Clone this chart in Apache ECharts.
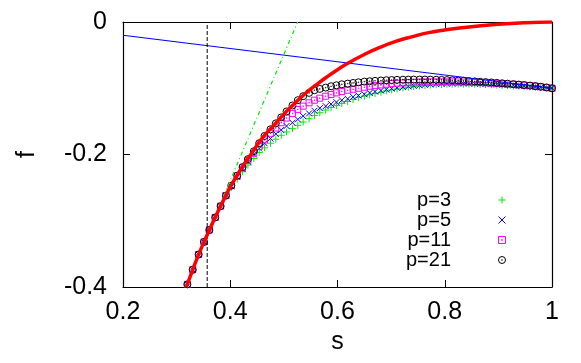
<!DOCTYPE html>
<html>
<head>
<meta charset="utf-8">
<script src="https://cdn.jsdelivr.net/npm/echarts@6/dist/echarts.min.js"></script>
<style>
    html, body { margin: 0; padding: 0; background: #fff; }
    #chart { width: 581px; height: 363px; }
</style>
</head>
<body>
<div id="chart"></div>
<script>
// s values of the marker points
var sGrid = [0.320, 0.330, 0.341, 0.351, 0.361, 0.372, 0.382, 0.392, 0.402, 0.413,
    0.423, 0.433, 0.444, 0.454, 0.464, 0.475, 0.485, 0.495, 0.505, 0.516,
    0.526, 0.536, 0.547, 0.557, 0.567, 0.578, 0.588, 0.598, 0.608, 0.619,
    0.629, 0.639, 0.650, 0.660, 0.670, 0.681, 0.691, 0.701, 0.711, 0.722,
    0.732, 0.742, 0.753, 0.763, 0.773, 0.784, 0.794, 0.804, 0.814, 0.825,
    0.835, 0.845, 0.856, 0.866, 0.876, 0.887, 0.897, 0.907, 0.917, 0.928,
    0.938, 0.948, 0.959, 0.969, 0.979, 0.990, 1.000];

// p=3
var p3F = [-0.396, -0.374, -0.351, -0.332, -0.314, -0.295, -0.278, -0.263, -0.250, -0.237,
    -0.226, -0.216, -0.206, -0.197, -0.190, -0.183, -0.177, -0.171, -0.166, -0.161,
    -0.156, -0.151, -0.146, -0.141, -0.137, -0.133, -0.129, -0.126, -0.123, -0.120,
    -0.117, -0.114, -0.112, -0.110, -0.108, -0.106, -0.104, -0.1025, -0.101, -0.0995,
    -0.0985, -0.0975, -0.0965, -0.0958, -0.0952, -0.0947, -0.0943, -0.094, -0.0938, -0.0937,
    -0.0937, -0.0938, -0.094, -0.0942, -0.0945, -0.0948, -0.0952, -0.0956, -0.096, -0.0965,
    -0.097, -0.0975, -0.098, -0.0985, -0.0991, -0.0996, -0.1];

// p=5
var p5F = [-0.396, -0.374, -0.351, -0.332, -0.314, -0.295, -0.278, -0.262, -0.248, -0.234,
    -0.222, -0.211, -0.200, -0.191, -0.183, -0.176, -0.169, -0.163, -0.157, -0.152,
    -0.147, -0.142, -0.138, -0.134, -0.130, -0.127, -0.124, -0.121, -0.118, -0.116,
    -0.113, -0.111, -0.109, -0.107, -0.105, -0.1035, -0.102, -0.1005, -0.0993, -0.0982,
    -0.0972, -0.0963, -0.0955, -0.0948, -0.0942, -0.0937, -0.0933, -0.093, -0.0928, -0.0927,
    -0.0927, -0.0928, -0.093, -0.0932, -0.0935, -0.0938, -0.0942, -0.0946, -0.0951, -0.0956,
    -0.0962, -0.0968, -0.0974, -0.098, -0.0987, -0.0993, -0.1];

// p=11
var p11F = [-0.396, -0.374, -0.351, -0.332, -0.314, -0.295, -0.278, -0.262, -0.247, -0.232,
    -0.220, -0.209, -0.198, -0.188, -0.178, -0.168, -0.160, -0.152, -0.145, -0.138,
    -0.132, -0.127, -0.122, -0.118, -0.115, -0.112, -0.1095, -0.107, -0.105, -0.103,
    -0.1015, -0.100, -0.0985, -0.097, -0.096, -0.095, -0.094, -0.093, -0.0925, -0.092,
    -0.0915, -0.091, -0.0907, -0.0905, -0.0904, -0.0903, -0.0903, -0.0903, -0.0904, -0.0905,
    -0.0907, -0.0909, -0.0912, -0.0915, -0.0918, -0.0922, -0.0926, -0.0931, -0.0936, -0.0941,
    -0.0947, -0.0953, -0.096, -0.0968, -0.0977, -0.0988, -0.1];

// p=21
var p21F = [-0.396, -0.374, -0.351, -0.332, -0.314, -0.295, -0.278, -0.262, -0.247, -0.232,
    -0.219, -0.207, -0.195, -0.183, -0.172, -0.162, -0.153, -0.144, -0.135, -0.126,
    -0.118, -0.112, -0.107, -0.103, -0.101, -0.099, -0.097, -0.0955, -0.094, -0.093,
    -0.092, -0.091, -0.090, -0.0894, -0.0888, -0.0883, -0.0879, -0.0876, -0.0873, -0.0871,
    -0.087, -0.0869, -0.0869, -0.0869, -0.087, -0.0872, -0.0874, -0.0877, -0.088, -0.0884,
    -0.0888, -0.0892, -0.0897, -0.0902, -0.0907, -0.0913, -0.0919, -0.0925, -0.0931, -0.0938,
    -0.0945, -0.0952, -0.096, -0.0968, -0.0977, -0.0988, -0.1];

// thick red curve
var redS = [0.318, 0.33, 0.34, 0.35, 0.36, 0.37, 0.38, 0.39, 0.40, 0.42, 0.44, 0.46, 0.48, 0.50, 0.52,
    0.54, 0.56, 0.58, 0.60, 0.62, 0.65, 0.68, 0.71, 0.74, 0.77, 0.80, 0.85, 0.90, 0.95, 1.00];
var redF = [-0.4, -0.374, -0.353, -0.334, -0.316, -0.298, -0.281, -0.265, -0.249, -0.222, -0.198, -0.175, -0.157, -0.139, -0.123,
    -0.108, -0.095, -0.083, -0.072, -0.062, -0.049, -0.038, -0.029, -0.022, -0.016, -0.012, -0.007, -0.0035, -0.0012, 0];

// straight lines
var blueS = [0.2, 1.0];
var blueF = [-0.02, -0.1];
var greenS = [0.3156, 0.5256];
var greenF = [-0.4, 0];
var cutS = [0.357, 0.357];
var cutF = [-0.4, 0];

// legend names
var names = ['p=3', 'p=5', 'p=11', 'p=21'];

var FONT = 'Liberation Sans';

function pairs (xs, ys) {
    return xs.map(function (x, i) {
        return [x, ys[i]];
    });
}

function lineSeries (xs, ys, color, width, dash, smooth) {
    return {
        type: 'line',
        data: pairs(xs, ys),
        symbol: 'none',
        smooth: smooth || false,
        silent: true,
        lineStyle: { color: color, width: width, type: dash || 'solid' }
    };
}

function markSeries (name, ys, symbol, color, size) {
    return {
        name: name,
        type: 'scatter',
        data: pairs(sGrid, ys),
        symbol: symbol,
        symbolSize: size,
        clip: false,
        itemStyle: { color: 'none', borderColor: color, borderWidth: 1, opacity: 1 }
    };
}

function axisCommon (pos, showLabel) {
    return {
        type: 'value',
        position: pos,
        axisLine: { show: true, onZero: false, lineStyle: { color: '#000', width: 1.2 } },
        axisTick: { show: true, inside: true, length: 7, lineStyle: { color: '#000', width: 1 } },
        axisLabel: { show: showLabel, color: '#000', fontFamily: FONT, fontSize: 25, showMinLabel: true, showMaxLabel: true },
        splitLine: { show: false }
    };
}

function buildOption () {
    var xBottom = axisCommon('bottom', true);
    xBottom.min = 0.2; xBottom.max = 1; xBottom.interval = 0.2;
    xBottom.axisLabel.margin = 13;
    xBottom.name = 's';
    xBottom.nameLocation = 'middle';
    xBottom.nameGap = 37;
    xBottom.nameTextStyle = { color: '#000', fontFamily: FONT, fontSize: 25 };

    var xTop = axisCommon('top', false);
    xTop.min = 0.2; xTop.max = 1; xTop.interval = 0.2;

    var yLeft = axisCommon('left', true);
    yLeft.min = -0.4; yLeft.max = 0; yLeft.interval = 0.2;
    yLeft.axisLabel.margin = 16;
    yLeft.name = 'f';
    yLeft.nameLocation = 'middle';
    yLeft.nameRotate = 90;
    yLeft.nameGap = 83;
    yLeft.nameTextStyle = { color: '#000', fontFamily: FONT, fontSize: 25 };

    var yRight = axisCommon('right', false);
    yRight.min = -0.4; yRight.max = 0; yRight.interval = 0.2;

    return {
        animation: false,
        backgroundColor: '#fff',
        grid: { left: 123, right: 29, top: 22, bottom: 76, containLabel: false, outerBoundsMode: 'none' },
        xAxis: [xBottom, xTop],
        yAxis: [yLeft, yRight],
        legend: {
            data: names,
            orient: 'vertical',
            align: 'right',
            right: 73,
            top: 190,
            padding: 0,
            itemGap: 0,
            itemWidth: 92,
            itemHeight: 7,
            selectedMode: false,
            itemStyle: { borderWidth: 1 },
            textStyle: { color: '#000', fontFamily: FONT, fontSize: 20, lineHeight: 20 }
        },
        series: [
            lineSeries(blueS, blueF, '#0000ff', 1.2),
            lineSeries(greenS, greenF, '#00ee00', 1.2, [4, 3, 1, 3]),
            lineSeries(cutS, cutF, '#000', 1, [4, 2]),
            lineSeries(redS, redF, '#ff0000', 3.5, null, true),
            markSeries(names[0], p3F, 'path://M0,5L10,5M5,0L5,10', '#00ee00', 7),
            markSeries(names[1], p5F, 'path://M0,0L10,10M10,0L0,10', '#0000ff', 6),
            markSeries(names[2], p11F, 'path://M0,0L10,0L10,10L0,10ZM4.5,4.5L5.5,4.5L5.5,5.5L4.5,5.5Z', '#ff00ff', 6),
            markSeries(names[3], p21F, 'path://M10,5A5,5,0,1,1,0,5A5,5,0,1,1,10,5ZM5.5,5A0.5,0.5,0,1,1,4.5,5A0.5,0.5,0,1,1,5.5,5Z', '#000', 7)
        ]
    };
}

function renderChart () {
    var chart = echarts.init(document.getElementById('chart'), null, { renderer: 'canvas' });
    chart.setOption(buildOption());
}

renderChart();
</script>
</body>
</html>
